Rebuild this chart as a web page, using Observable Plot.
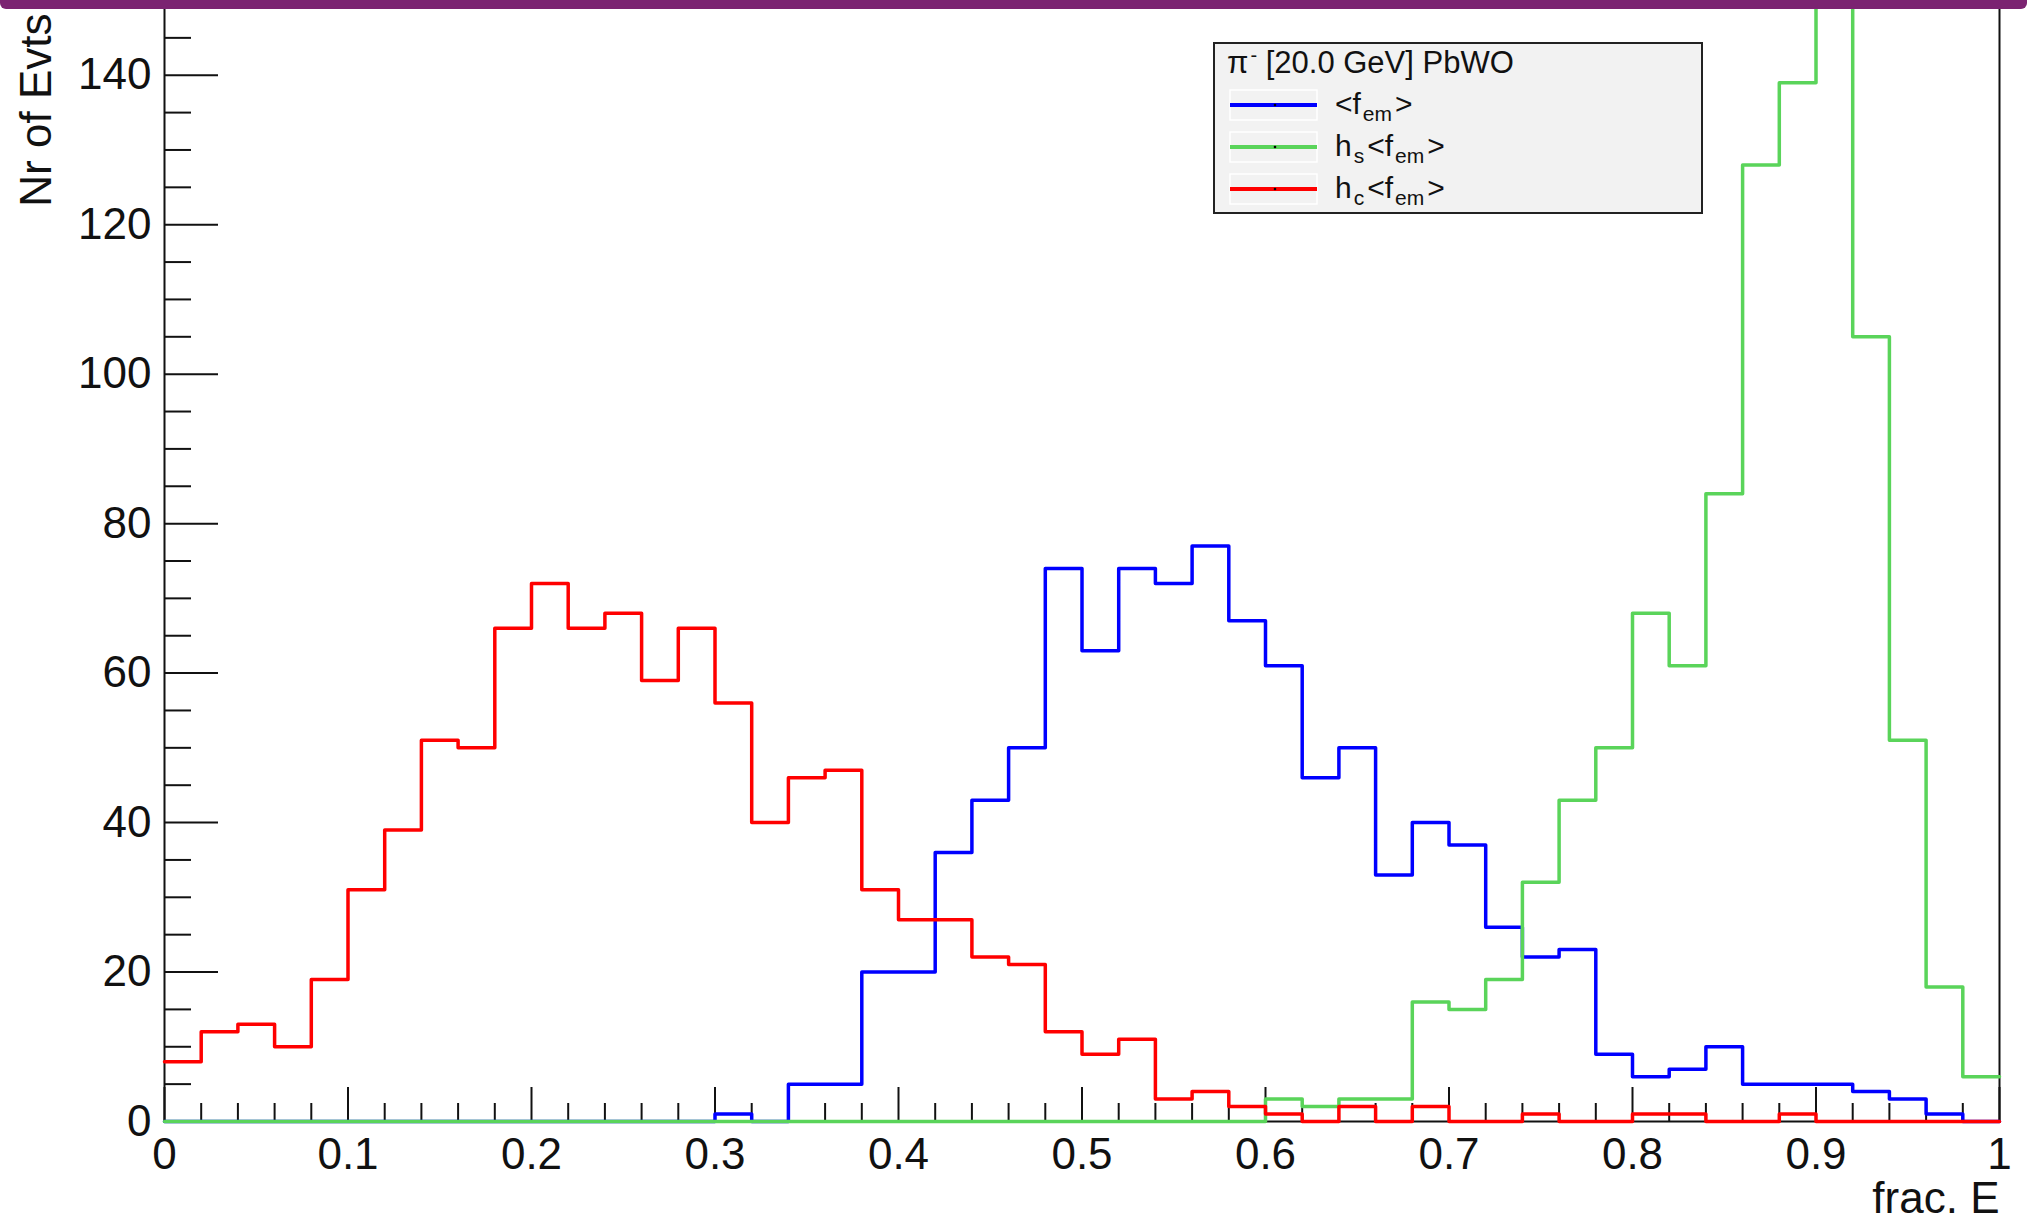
<!DOCTYPE html>
<html>
<head>
<meta charset="utf-8">
<script src="https://cdn.jsdelivr.net/npm/d3@7"></script>
<script src="https://cdn.jsdelivr.net/npm/@observablehq/plot@0.6"></script>
<style>
html, body { margin: 0; padding: 0; background: #fff; overflow: hidden; }
#chart { position: absolute; left: 0; top: 0; }
#topbar { position: absolute; left: 0; top: 0; width: 2027px; height: 9px; background: #7b2371; border-radius: 0 0 6px 6px; }
</style>
</head>
<body>
<div id="chart"></div>
<div id="topbar"></div>
<script>
// ---- data (bin edges of frac. E, width 0.02) ----
const binEdges = [0, 0.02, 0.04, 0.06, 0.08, 0.10, 0.12, 0.14, 0.16, 0.18,
  0.20, 0.22, 0.24, 0.26, 0.28, 0.30, 0.32, 0.34, 0.36, 0.38,
  0.40, 0.42, 0.44, 0.46, 0.48, 0.50, 0.52, 0.54, 0.56, 0.58,
  0.60, 0.62, 0.64, 0.66, 0.68, 0.70, 0.72, 0.74, 0.76, 0.78,
  0.80, 0.82, 0.84, 0.86, 0.88, 0.90, 0.92, 0.94, 0.96, 0.98, 1.00];

// <f_em>  (blue)
const fem = [0, 0, 0, 0, 0, 0, 0, 0, 0, 0,
  0, 0, 0, 0, 0, 1, 0, 5, 5, 20,
  20, 36, 43, 50, 74, 63, 74, 72, 77, 67,
  61, 46, 50, 33, 40, 37, 26, 22, 23, 9,
  6, 7, 10, 5, 5, 5, 4, 3, 1, 0];

// h_s<f_em>  (green)
const hsFem = [0, 0, 0, 0, 0, 0, 0, 0, 0, 0,
  0, 0, 0, 0, 0, 0, 0, 0, 0, 0,
  0, 0, 0, 0, 0, 0, 0, 0, 0, 0,
  3, 2, 3, 3, 16, 15, 19, 32, 43, 50,
  68, 61, 84, 128, 139, 154, 105, 51, 18, 6];

// h_c<f_em>  (red)
const hcFem = [8, 12, 13, 10, 19, 31, 39, 51, 50, 66,
  72, 66, 68, 59, 66, 56, 40, 46, 47, 31,
  27, 27, 22, 21, 12, 9, 11, 3, 4, 2,
  1, 0, 2, 0, 2, 0, 0, 1, 0, 0,
  1, 1, 0, 0, 1, 0, 0, 0, 0, 0];

const yTicksMajor = [0, 20, 40, 60, 80, 100, 120, 140];
const yTickLabels = ["0", "20", "40", "60", "80", "100", "120", "140"];
const yTicksMinor = [5, 10, 15, 25, 30, 35, 45, 50, 55, 65, 70, 75, 85, 90, 95,
  105, 110, 115, 125, 130, 135, 145];
const xTicksMajor = [0, 0.1, 0.2, 0.3, 0.4, 0.5, 0.6, 0.7, 0.8, 0.9, 1];
const xTickLabels = ["0", "0.1", "0.2", "0.3", "0.4", "0.5", "0.6", "0.7", "0.8", "0.9", "1"];
const xTicksMinor = [0.02, 0.04, 0.06, 0.08, 0.12, 0.14, 0.16, 0.18, 0.22, 0.24, 0.26, 0.28,
  0.32, 0.34, 0.36, 0.38, 0.42, 0.44, 0.46, 0.48, 0.52, 0.54, 0.56, 0.58,
  0.62, 0.64, 0.66, 0.68, 0.72, 0.74, 0.76, 0.78, 0.82, 0.84, 0.86, 0.88,
  0.92, 0.94, 0.96, 0.98];

const xLabel = "frac. E";
const yLabel = "Nr of Evts";
const legendTitle = ["π", "-", " [20.0 GeV] PbWO"];
const seriesColors = ["#0000ff", "#5ad45a", "#ff0000"];

// ---- layout ----
const W = 2027, H = 1220;
const mL = 164, mR = 28, mT = 0, mB = 99;
const plotW = W - mL - mR, plotH = H - mT - mB;
const font = "'Liberation Sans', Arial, Helvetica, sans-serif";

function steps(vals) {
  return binEdges.map((x, i) => ({x, y: vals[Math.min(i, vals.length - 1)]}));
}
const yLabelRows = yTicksMajor.map((v, i) => ({v, t: yTickLabels[i]}));
const xLabelRows = xTicksMajor.map((v, i) => ({v, t: xTickLabels[i]}));

const chart = Plot.plot({
  width: W, height: H,
  marginLeft: mL, marginRight: mR, marginTop: mT, marginBottom: mB,
  style: {fontFamily: font, fontSize: "44px", color: "black", background: "white", overflow: "visible"},
  x: {domain: [0, 1], axis: null},
  y: {domain: [0, 150], axis: null},
  marks: [
    Plot.frame({stroke: "#111", strokeWidth: 2}),
    Plot.tickY(yTicksMinor, {y: d => d, stroke: "#111", strokeWidth: 2, insetRight: plotW - 27}),
    Plot.tickY(yTicksMajor, {y: d => d, stroke: "#111", strokeWidth: 2, insetRight: plotW - 54}),
    Plot.tickX(xTicksMinor, {x: d => d, stroke: "#111", strokeWidth: 2, insetTop: plotH - 18}),
    Plot.tickX(xTicksMajor, {x: d => d, stroke: "#111", strokeWidth: 2, insetTop: plotH - 34}),
    Plot.line(steps(fem), {x: "x", y: "y", curve: "step-after", stroke: seriesColors[0], strokeWidth: 3.5}),
    Plot.line(steps(hsFem), {x: "x", y: "y", curve: "step-after", stroke: seriesColors[1], strokeWidth: 3.5}),
    Plot.line(steps(hcFem), {x: "x", y: "y", curve: "step-after", stroke: seriesColors[2], strokeWidth: 3.5}),
    Plot.text(yLabelRows, {y: "v", text: "t", frameAnchor: "left", textAnchor: "end", dx: -13, fontSize: 44, fill: "#111"}),
    Plot.text(xLabelRows, {x: "v", text: "t", frameAnchor: "bottom", lineAnchor: "top", dy: 16, fontSize: 44, fill: "#111"}),
    Plot.text([xLabel], {text: d => d, frameAnchor: "bottom-right", textAnchor: "end", lineAnchor: "middle", dy: 77, fontSize: 44, fill: "#111"}),
    Plot.text([yLabel], {text: d => d, frameAnchor: "top-left", rotate: -90, textAnchor: "end", lineAnchor: "middle", dx: -128, dy: 13, fontSize: 44, fill: "#111"})
  ]
});
document.getElementById("chart").appendChild(chart);

// ---- legend (inside the frame, top right) ----
const legendEntries = [
  {color: seriesColors[0], parts: [["<f", 0], ["em", 1], [">", 0]]},
  {color: seriesColors[1], parts: [["h", 0], ["s", 1], ["<f", 0], ["em", 1], [">", 0]]},
  {color: seriesColors[2], parts: [["h", 0], ["c", 1], ["<f", 0], ["em", 1], [">", 0]]}
];
const svg = d3.select(chart);
const lg = svg.append("g").attr("font-family", font).attr("fill", "#111").attr("text-anchor", "start");
lg.append("rect").attr("x", 1214).attr("y", 43).attr("width", 488).attr("height", 170)
  .attr("fill", "#f2f2f2").attr("stroke", "#222").attr("stroke-width", 2);
const title = lg.append("text").attr("x", 1227).attr("y", 73).attr("font-size", 31).attr("text-anchor", "start");
title.append("tspan").text(legendTitle[0]);
title.append("tspan").attr("font-size", 20).attr("dy", -11).attr("dx", 2).text(legendTitle[1]);
title.append("tspan").attr("dy", 11).text(legendTitle[2]);
const rowY = [105, 147, 189];
legendEntries.forEach((e, i) => {
  const y = rowY[i];
  lg.append("rect").attr("x", 1230).attr("y", y - 15).attr("width", 87).attr("height", 30)
    .attr("fill", "none").attr("stroke", "#ffffff").attr("stroke-width", 1.5);
  lg.append("line").attr("x1", 1230).attr("x2", 1317).attr("y1", y).attr("y2", y)
    .attr("stroke", e.color).attr("stroke-width", 4);
  lg.append("circle").attr("cx", 1275).attr("cy", y).attr("r", 1.3).attr("fill", "#000");
  const t = lg.append("text").attr("x", 1335).attr("y", y + 9).attr("font-size", 30).attr("text-anchor", "start");
  let sub = 0;
  e.parts.forEach(([s, isSub]) => {
    const ts = t.append("tspan").text(s);
    if (isSub && !sub) { ts.attr("font-size", 21).attr("dy", 7).attr("dx", 2); sub = 1; }
    else if (!isSub && sub) { ts.attr("dy", -7).attr("dx", 3); sub = 0; }
  });
});
</script>
</body>
</html>
